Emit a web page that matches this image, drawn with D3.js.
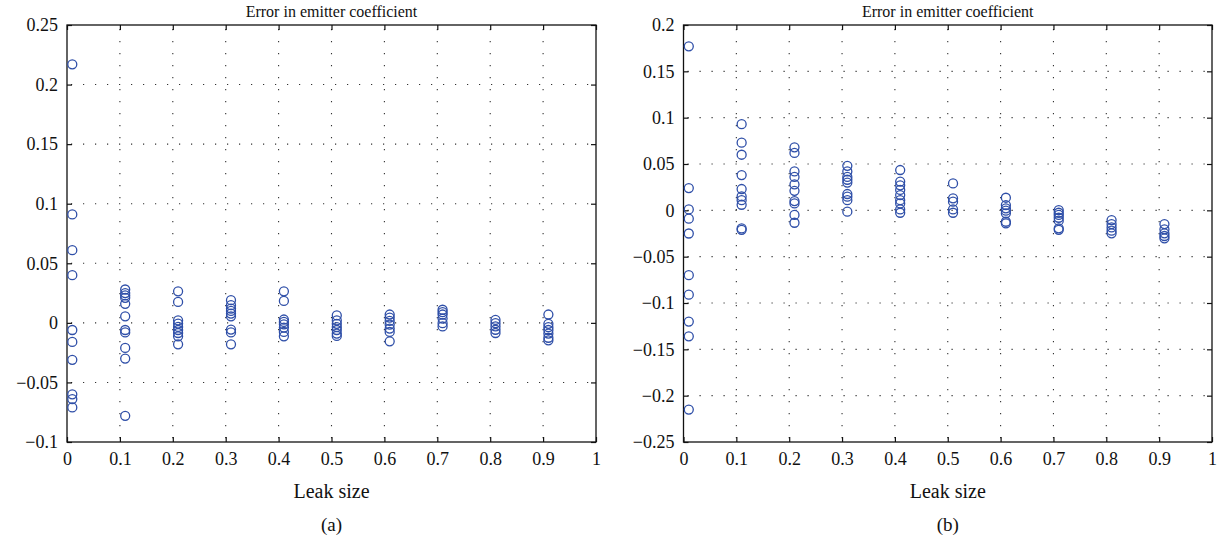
<!DOCTYPE html>
<html>
<head>
<meta charset="utf-8">
<script src="https://cdn.jsdelivr.net/npm/d3@7"></script>
<style>
  body { margin: 0; background: #fff; }
  svg text { font-family: "Liberation Serif", "Times New Roman", Tinos, "DejaVu Serif"; fill: #111; }
</style>
</head>
<body>
<div id="chart"></div>
<script>
// leak sizes at which the points were measured
var leakSizes = [0.01, 0.11, 0.21, 0.31, 0.41, 0.51, 0.61, 0.71, 0.81, 0.91];

// panel (a): error in emitter coefficient, one list per leak size
var errA = [
    [0.217, 0.091, 0.061, 0.040, -0.006, -0.016, -0.031, -0.060, -0.064, -0.071],
    [0.028, 0.025, 0.023, 0.021, 0.016, 0.0055, -0.006, -0.008, -0.021, -0.030, -0.078],
    [0.0265, 0.0176, 0.002, -0.0006, -0.0034, -0.006, -0.0085, -0.0113, -0.018],
    [0.019, 0.0148, 0.012, 0.010, 0.0078, 0.0055, -0.0056, -0.008, -0.018],
    [0.0265, 0.0184, 0.0028, 0.0008, -0.0012, -0.004, -0.0076, -0.0113],
    [0.0062, 0.002, -0.0008, -0.0035, -0.006, -0.009, -0.011],
    [0.007, 0.0044, 0.0016, -0.0014, -0.0048, -0.0076, -0.0155],
    [0.011, 0.009, 0.007, 0.0036, -0.0003, -0.003],
    [0.0025, -0.0003, -0.003, -0.0058, -0.0085],
    [0.007, -0.0008, -0.0036, -0.006, -0.009, -0.0125, -0.0147]
];

// panel (b)
var errB = [
    [0.177, 0.024, 0.001, -0.009, -0.025, -0.070, -0.091, -0.120, -0.136, -0.215],
    [0.093, 0.073, 0.060, 0.038, 0.023, 0.015, 0.011, 0.006, -0.0195, -0.021],
    [0.068, 0.062, 0.042, 0.036, 0.028, 0.021, 0.010, 0.0075, -0.005, -0.0134],
    [0.048, 0.042, 0.036, 0.033, 0.030, 0.0176, 0.0147, 0.011, -0.0015],
    [0.0435, 0.031, 0.027, 0.022, 0.0165, 0.011, 0.0075, 0.001, -0.0026],
    [0.029, 0.013, 0.0093, 0.001, -0.0026],
    [0.0136, 0.0057, 0.0022, -0.0004, -0.0032, -0.0123, -0.014],
    [0.0003, -0.0026, -0.005, -0.008, -0.0112, -0.0194, -0.021],
    [-0.0105, -0.0148, -0.0184, -0.022, -0.0248],
    [-0.0148, -0.0205, -0.0248, -0.0277, -0.0302]
];

var xTicks = [0, 0.1, 0.2, 0.3, 0.4, 0.5, 0.6, 0.7, 0.8, 0.9, 1];
var yTicksA = [-0.1, -0.05, 0, 0.05, 0.1, 0.15, 0.2, 0.25];
var yTicksB = [-0.25, -0.2, -0.15, -0.1, -0.05, 0, 0.05, 0.1, 0.15, 0.2];

var titles = ["Error in emitter coefficient", "Error in emitter coefficient"];
var xLabel = "Leak size";
var panelLabels = ["(a)", "(b)"];

var serif = '"Liberation Serif", "Times New Roman", Tinos, "DejaVu Serif"';

var svg = d3.select("#chart").append("svg")
    .attr("width", 1224)
    .attr("height", 542);

function fmt(d) {
    return String(+d.toFixed(4)).replace("-", "\u2212");
}

function panel(left, right, yTicks, data, title, label) {
    var top = 25, bottom = 442;

    var x = d3.scaleLinear().domain([0, 1]).range([left, right]);
    var y = d3.scaleLinear().domain([yTicks[0], yTicks[yTicks.length - 1]]).range([bottom, top]);

    var g = svg.append("g");

    // dotted grid
    g.append("g").selectAll("line").data(xTicks.slice(1, -1)).join("line")
        .attr("x1", function(d) { return x(d); })
        .attr("x2", function(d) { return x(d); })
        .attr("y1", top + 4).attr("y2", bottom)
        .attr("stroke", "#333").attr("stroke-width", 1.1)
        .attr("stroke-dasharray", "1.2,10.8");
    g.append("g").selectAll("line").data(yTicks.slice(1, -1)).join("line")
        .attr("y1", function(d) { return y(d); })
        .attr("y2", function(d) { return y(d); })
        .attr("x1", left + 4).attr("x2", right)
        .attr("stroke", "#333").attr("stroke-width", 1.1)
        .attr("stroke-dasharray", "1.2,10.8");

    // axes with inward ticks
    var ax = g.append("g").attr("transform", "translate(0," + bottom + ")")
        .call(d3.axisBottom(x).tickValues(xTicks).tickFormat(fmt)
            .tickSizeInner(-5).tickSizeOuter(0).tickPadding(10));
    var ay = g.append("g").attr("transform", "translate(" + left + ",0)")
        .call(d3.axisLeft(y).tickValues(yTicks).tickFormat(fmt)
            .tickSizeInner(-5).tickSizeOuter(0).tickPadding(9));
    var axT = g.append("g").attr("transform", "translate(0," + top + ")")
        .call(d3.axisTop(x).tickValues(xTicks).tickFormat("")
            .tickSizeInner(-5).tickSizeOuter(0));
    var ayR = g.append("g").attr("transform", "translate(" + right + ",0)")
        .call(d3.axisRight(y).tickValues(yTicks).tickFormat("")
            .tickSizeInner(-5).tickSizeOuter(0));

    [ax, ay, axT, ayR].forEach(function(a) {
        a.attr("font-family", null);
        a.select(".domain").remove();
        a.selectAll(".tick line").attr("stroke", "#111").attr("stroke-width", 1.2);
        a.selectAll("text").style("font-size", "18px").attr("fill", "#111")
            .style("font-family", serif);
    });

    g.append("rect")
        .attr("x", left).attr("y", top)
        .attr("width", right - left).attr("height", bottom - top)
        .attr("fill", "none").attr("stroke", "#111").attr("stroke-width", 1.3);

    // points
    var pts = [];
    data.forEach(function(col, i) {
        col.forEach(function(v) { pts.push({x: leakSizes[i], y: v}); });
    });
    g.append("g").selectAll("circle").data(pts).join("circle")
        .attr("cx", function(d) { return x(d.x); })
        .attr("cy", function(d) { return y(d.y); })
        .attr("r", 4.5)
        .attr("fill", "none")
        .attr("stroke", "#2f4fa8")
        .attr("stroke-width", 1.3);

    var cx = (left + right) / 2;
    g.append("text").attr("x", cx).attr("y", 17)
        .attr("text-anchor", "middle").style("font-family", serif)
        .style("font-size", "16px").text(title);
    g.append("text").attr("x", cx).attr("y", 498)
        .attr("text-anchor", "middle").style("font-family", serif)
        .style("font-size", "20px").text(xLabel);
    g.append("text").attr("x", cx).attr("y", 531)
        .attr("text-anchor", "middle").style("font-family", serif)
        .style("font-size", "19px").text(label);
}

panel(67, 596, yTicksA, errA, titles[0], panelLabels[0]);
panel(683.5, 1212, yTicksB, errB, titles[1], panelLabels[1]);
</script>
</body>
</html>
